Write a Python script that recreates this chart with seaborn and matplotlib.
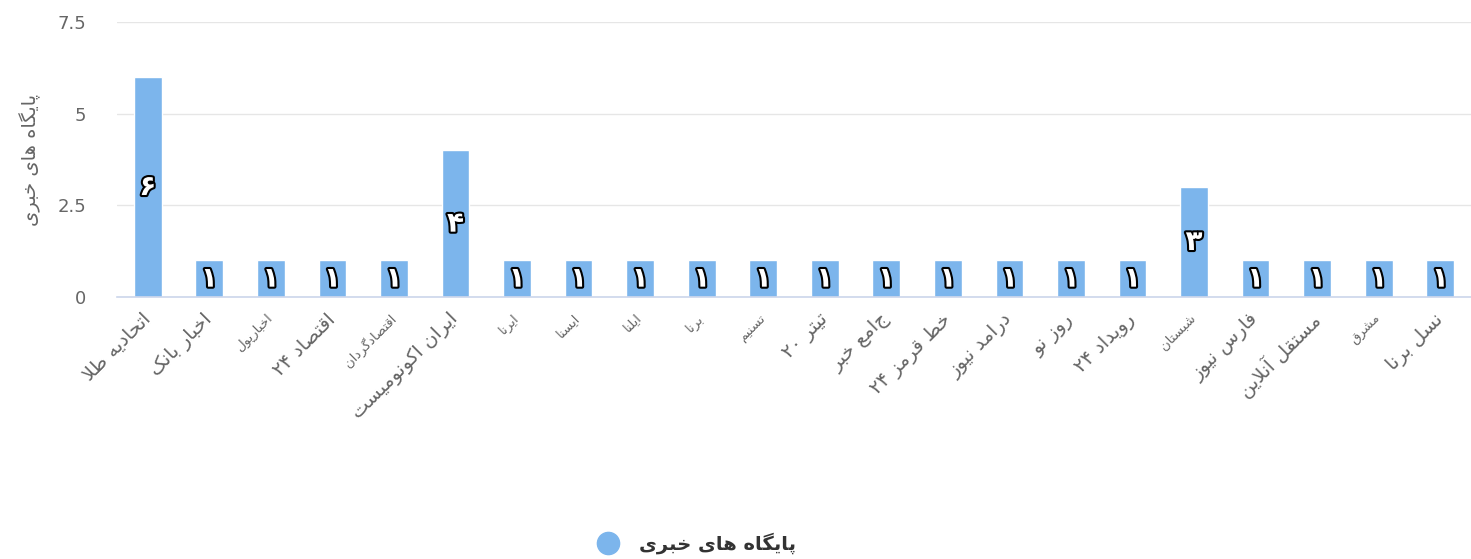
import re
import matplotlib
matplotlib.use("Agg")
import matplotlib.pyplot as plt
import matplotlib.patheffects as pe
from matplotlib.lines import Line2D
import seaborn as sns
import pandas as pd

# --- data ---
sources = [
    "اتحادیه طلا", "اخبار بانک", "اخبارپول", "اقتصاد ۲۴", "اقتصادگردان",
    "ایران اکونومیست", "ایرنا", "ایسنا", "ایلنا", "برنا", "تسنیم",
    "تیتر ۲۰", "جامع خبر", "خط قرمز ۲۴", "درامد نیوز", "روز نو",
    "رویداد ۲۴", "شبستان", "فارس نیوز", "مستقل آنلاین", "مشرق", "نسل برنا",
]
counts = [6, 1, 1, 1, 1, 4, 1, 1, 1, 1, 1, 1, 1, 1, 1, 1, 1, 3, 1, 1, 1, 1]
series_name = "پایگاه های خبری"
y_ticks = [0, 2.5, 5, 7.5]

# --- minimal persian shaping (matplotlib does no arabic joining) ---
# (isolated, final, initial, medial); None = letter does not join to the next one
FORMS = {
    "ا": ("\uFE8D", "\uFE8E", None, None),
    "آ": ("\uFE81", "\uFE82", None, None),
    "ب": ("\uFE8F", "\uFE90", "\uFE91", "\uFE92"),
    "پ": ("\uFB56", "\uFB57", "\uFB58", "\uFB59"),
    "ت": ("\uFE95", "\uFE96", "\uFE97", "\uFE98"),
    "ح": ("\uFEA1", "\uFEA2", "\uFEA3", "\uFEA4"),
    "خ": ("\uFEA5", "\uFEA6", "\uFEA7", "\uFEA8"),
    "د": ("\uFEA9", "\uFEAA", None, None),
    "ر": ("\uFEAD", "\uFEAE", None, None),
    "ز": ("\uFEAF", "\uFEB0", None, None),
    "س": ("\uFEB1", "\uFEB2", "\uFEB3", "\uFEB4"),
    "ش": ("\uFEB5", "\uFEB6", "\uFEB7", "\uFEB8"),
    "ص": ("\uFEB9", "\uFEBA", "\uFEBB", "\uFEBC"),
    "ط": ("\uFEC1", "\uFEC2", "\uFEC3", "\uFEC4"),
    "ع": ("\uFEC9", "\uFECA", "\uFECB", "\uFECC"),
    "ف": ("\uFED1", "\uFED2", "\uFED3", "\uFED4"),
    "ق": ("\uFED5", "\uFED6", "\uFED7", "\uFED8"),
    "ک": ("\uFB8E", "\uFB8F", "\uFB90", "\uFB91"),
    "گ": ("\uFB92", "\uFB93", "\uFB94", "\uFB95"),
    "ل": ("\uFEDD", "\uFEDE", "\uFEDF", "\uFEE0"),
    "م": ("\uFEE1", "\uFEE2", "\uFEE3", "\uFEE4"),
    "ن": ("\uFEE5", "\uFEE6", "\uFEE7", "\uFEE8"),
    "ه": ("\uFEE9", "\uFEEA", "\uFEEB", "\uFEEC"),
    "و": ("\uFEED", "\uFEEE", None, None),
    "ی": ("\uFBFC", "\uFBFD", "\uFBFE", "\uFBFF"),
}
LAM_ALEF = {"ا": ("\uFEFB", "\uFEFC"), "آ": ("\uFEF5", "\uFEF6")}


def shape(text):
    out = []
    i, n = 0, len(text)
    while i < n:
        c = text[i]
        if c not in FORMS:
            out.append(c)
            i += 1
            continue
        prev = text[i - 1] if i > 0 else None
        joins_prev = prev in FORMS and FORMS[prev][2] is not None
        if c == "ل" and i + 1 < n and text[i + 1] in LAM_ALEF:
            out.append(LAM_ALEF[text[i + 1]][1 if joins_prev else 0])
            i += 2
            continue
        nxt = text[i + 1] if i + 1 < n else None
        joins_next = FORMS[c][2] is not None and nxt in FORMS
        iso, fin, ini, med = FORMS[c]
        if joins_prev and joins_next:
            out.append(med)
        elif joins_prev:
            out.append(fin)
        elif joins_next:
            out.append(ini)
        else:
            out.append(iso)
        i += 1
    vis = "".join(out)[::-1]
    return re.sub(r"[0-9\u06F0-\u06F9]+", lambda m: m.group(0)[::-1], vis)


def fa_digits(v):
    return str(v).translate(str.maketrans("0123456789", "۰۱۲۳۴۵۶۷۸۹"))


df = pd.DataFrame({"source": [shape(s) for s in sources], "count": counts})

sns.set_theme(style="white")
plt.rcParams["font.family"] = ["DejaVu Sans"]

bar_color = "#7cb5ec"
fig = plt.figure(figsize=(14.71, 5.59), dpi=100)
ax = fig.add_axes([117 / 1471, 1 - 297 / 559, 1354 / 1471, 275 / 559])

sns.barplot(data=df, x="source", y="count", color=bar_color, width=0.45,
            edgecolor="white", linewidth=1, ax=ax, saturation=1, zorder=3)

ax.set_ylim(0, 7.5)
ax.set_xlim(-0.5, len(sources) - 0.5)
ax.set_yticks(y_ticks)
ax.set_yticklabels(["0", "2.5", "5", "7.5"], color="#666666", fontsize=13)
ax.grid(axis="y", color="#e6e6e6", linewidth=1, zorder=0)
ax.grid(axis="x", visible=False)
for side in ["top", "right", "left"]:
    ax.spines[side].set_visible(False)
ax.spines["bottom"].set_color("#ccd6eb")
ax.spines["bottom"].set_linewidth(1.2)
ax.spines["bottom"].set_zorder(4)
ax.tick_params(axis="y", length=0, pad=22)
ax.tick_params(axis="x", length=0, pad=14)
ax.set_xlabel("")
ax.set_ylabel("")

for lbl, name in zip(ax.get_xticklabels(), sources):
    lbl.set_rotation(45)
    lbl.set_ha("right")
    lbl.set_va("center")
    lbl.set_rotation_mode("anchor")
    lbl.set_color("#666666")
    lbl.set_fontsize(14 if " " in name else 9.5)

ax.bar_label(ax.containers[0], labels=[fa_digits(v) for v in counts],
             label_type="center", color="white", fontsize=20, fontweight="bold",
             path_effects=[pe.withStroke(linewidth=3, foreground="black")])

fig.text(30 / 1471, 1 - 160 / 559, shape(series_name), rotation=90,
         ha="center", va="center", color="#666666", fontsize=14)

handle = Line2D([], [], marker="o", linestyle="none", markersize=16,
                markerfacecolor=bar_color, markeredgecolor=bar_color)
leg = fig.legend([handle], [shape(series_name)], loc="center",
                 bbox_to_anchor=(692 / 1471, 1 - 543 / 559), frameon=False,
                 handletextpad=0.6, prop={"size": 14, "weight": "bold"})
for t in leg.get_texts():
    t.set_color("#333333")

fig.savefig("out.png", dpi=100)
